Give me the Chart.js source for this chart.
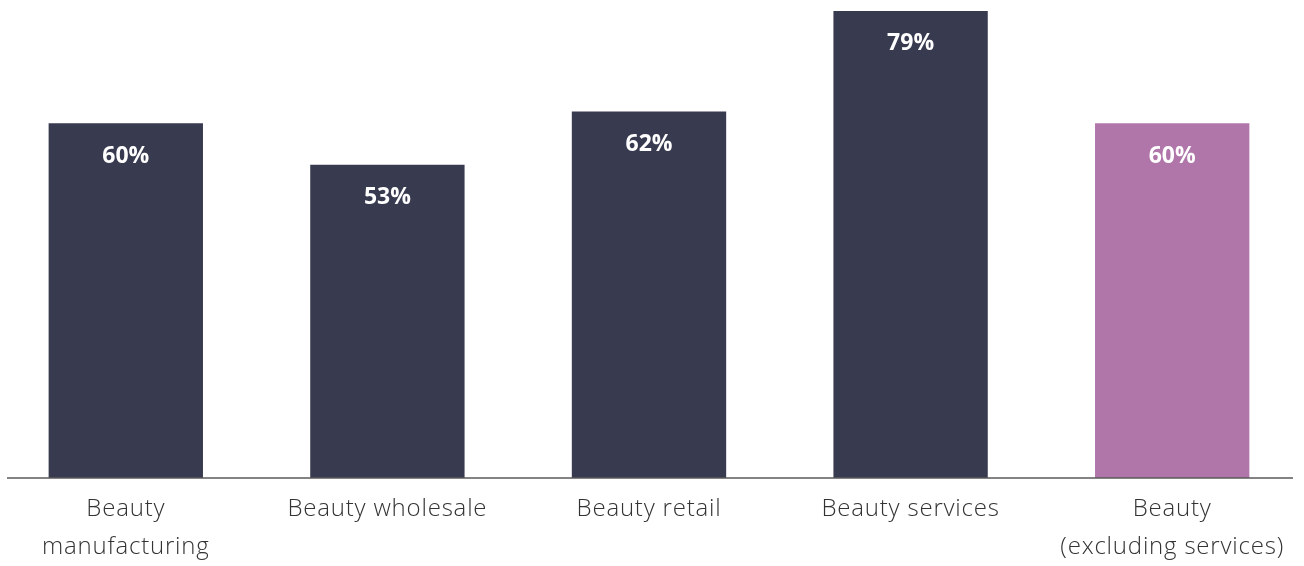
<!DOCTYPE html>
<html>
<head>
<meta charset="utf-8">
<script src="https://cdn.jsdelivr.net/npm/chart.js@4/dist/chart.umd.min.js"></script>
<style>
  html, body { margin: 0; padding: 0; background: #ffffff; overflow: hidden; }
  #wrap { position: absolute; left: -5px; top: 0; width: 1308px; height: 566px; }
</style>
</head>
<body>
<div id="wrap"><canvas id="chart"></canvas></div>
<script>
// Share of businesses by beauty segment
const categories = [
  ["Beauty", "manufacturing"],
  "Beauty wholesale",
  "Beauty retail",
  "Beauty services",
  ["Beauty", "(excluding services)"]
];
const shareValues = [60, 53, 62, 79, 60];
const barColors = ["#383a50", "#383a50", "#383a50", "#383a50", "#b076aa"];

// Slightly open tracking for the category labels
const trackingPlugin = {
  id: "tracking",
  beforeDraw(chart) { chart.ctx.letterSpacing = "0.8px"; },
  afterDraw(chart) { chart.ctx.letterSpacing = "0px"; }
};

// Baseline rule, inset slightly from the plot edges
const baselinePlugin = {
  id: "baseline",
  afterDatasetsDraw(chart) {
    const { ctx, chartArea } = chart;
    const y = chart.scales.y.getPixelForValue(0);
    ctx.save();
    ctx.strokeStyle = "#5a5a5a";
    ctx.lineWidth = 1.3;
    ctx.beginPath();
    ctx.moveTo(chartArea.left + 12, y);
    ctx.lineTo(chartArea.right - 10, y);
    ctx.stroke();
    ctx.restore();
  }
};

// Percentage labels inside the top of each bar
const valueLabelPlugin = {
  id: "valueLabels",
  afterDatasetsDraw(chart) {
    const { ctx } = chart;
    const meta = chart.getDatasetMeta(0);
    ctx.save();
    ctx.letterSpacing = "0px";
    ctx.fillStyle = "#ffffff";
    ctx.font = "bold 23px 'Open Sans', Lato, sans-serif";
    ctx.textAlign = "center";
    ctx.textBaseline = "middle";
    meta.data.forEach((bar, i) => {
      ctx.fillText(shareValues[i] + "%", bar.x, bar.y + 33);
    });
    ctx.restore();
  }
};

new Chart(document.getElementById("chart"), {
  type: "bar",
  data: {
    labels: categories,
    datasets: [{
      data: shareValues,
      backgroundColor: barColors,
      borderWidth: 0,
      barPercentage: 0.59,
      categoryPercentage: 1.0
    }]
  },
  options: {
    responsive: true,
    maintainAspectRatio: false,
    animation: false,
    layout: { padding: { top: 5, left: 0, right: 0, bottom: 0 } },
    plugins: {
      legend: { display: false },
      tooltip: { enabled: false }
    },
    scales: {
      x: {
        grid: { display: false },
        border: { display: false },
        afterFit(scale) { scale.height = 88; },
        ticks: {
          color: "#333333",
          autoSkip: false,
          maxRotation: 0,
          padding: 5,
          font: { family: "'Open Sans', Lato, sans-serif", size: 24, weight: 300, lineHeight: 1.55 }
        }
      },
      y: {
        display: false,
        min: 0,
        max: 80
      }
    }
  },
  plugins: [trackingPlugin, baselinePlugin, valueLabelPlugin]
});
</script>
</body>
</html>
